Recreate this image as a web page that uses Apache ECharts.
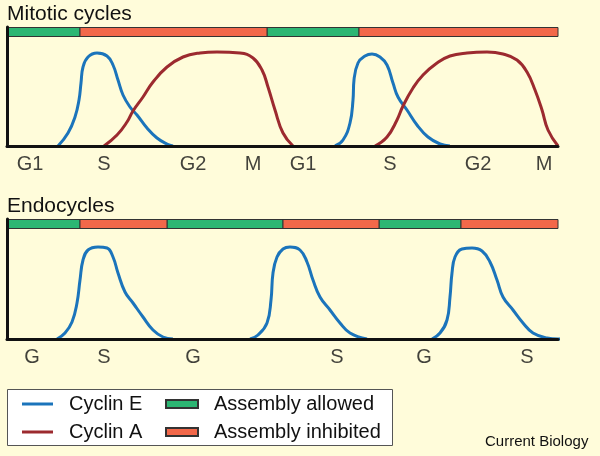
<!DOCTYPE html>
<html lang="en">
  <head>
    <meta charset="UTF-8" />
    <title>Mitotic cycles and endocycles</title>
    <script src="https://cdn.jsdelivr.net/npm/echarts@6/dist/echarts.min.js"></script>
    <style>
      html,
      body {
        margin: 0;
        padding: 0;
        background: #fffcda;
      }
      #app {
        width: 600px;
        height: 456px;
      }
    </style>
  </head>
  <body>
    <div id="app"></div>
    <script>
      // x = time along the cycles, y = relative cyclin level
      const mitoticE1 = [[51, 0], [61, 13], [68, 29], [72, 46], [74, 63], [76, 79], [81, 89], [90, 93], [100, 90], [106, 81], [111, 66], [116, 51], [123, 39], [130, 31], [140, 18], [150, 8], [160, 2], [166, 0]];
      const mitoticE2 = [[328, 0], [336, 6], [343, 23], [346, 46], [347, 66], [351, 83], [358, 90], [365, 92], [373, 89], [380, 81], [386, 63], [391, 49], [400, 36], [410, 21], [421, 9], [433, 2], [443, 0]];
      const mitoticA1 = [[97, 0], [110, 11], [120, 24], [126, 35], [136, 49], [146, 64], [160, 79], [176, 89], [193, 93], [210, 94], [233, 93], [246, 88], [255, 76], [261, 59], [268, 36], [276, 13], [286, 0]];
      const mitoticA2 = [[368, 0], [380, 9], [390, 26], [396, 40], [406, 58], [416, 71], [430, 83], [443, 90], [460, 93], [480, 94], [496, 92], [510, 86], [520, 74], [528, 56], [535, 36], [541, 16], [551, 0]];

      const endoE1 = [[50, 0], [58, 6], [65, 17], [70, 36], [73, 59], [76, 79], [81, 89], [91, 92], [100, 91], [106, 82], [111, 66], [118, 47], [126, 36], [136, 22], [146, 9], [156, 2], [166, 0]];
      const endoE2 = [[243, 0], [251, 4], [260, 16], [264, 39], [266, 66], [270, 82], [276, 90], [283, 92], [293, 89], [300, 77], [306, 59], [313, 42], [323, 29], [333, 16], [343, 6], [360, 0]];
      const endoE3 = [[425, 0], [433, 6], [440, 19], [443, 42], [445, 66], [448, 82], [455, 90], [465, 91], [475, 88], [483, 77], [490, 59], [496, 42], [506, 29], [516, 16], [526, 6], [540, 1], [551, 0], [568, 0]];

      // licensing windows [start, end]
      const mitoticAllowed = [[0, 73], [260, 352]];
      const mitoticInhibited = [[73, 260], [352, 551]];
      const endoAllowed = [[0, 73], [160, 276], [372, 454]];
      const endoInhibited = [[73, 160], [276, 372], [454, 551]];

      // phase labels under each time axis
      const mitoticPhases = ["G1", "S", "G2", "M", "G1", "S", "G2", "M"];
      const mitoticPhaseAt = [23, 97, 186, 246, 296, 383, 471, 537];
      const endoPhases = ["G", "S", "G", "S", "G", "S"];
      const endoPhaseAt = [25, 97, 186, 330, 417, 520];

      const FONT = "Liberation Sans";
      const INK = "#111";
      const BLUE = "#1b74bb";
      const DARKRED = "#9c2a2f";
      const GREEN = "#2cb673";
      const ORANGE = "#f2684a";

      const axisLine = { show: true, lineStyle: { color: "#111", width: 3 } };

      function xAxisFor(i) {
        return {
          type: "value", gridIndex: i, min: 0, max: 551, z: 5,
          axisLine: axisLine, axisTick: { show: false }, axisLabel: { show: false }, splitLine: { show: false },
        };
      }
      function yAxisFor(i, max) {
        return {
          type: "value", gridIndex: i, min: 0, max: max, z: 5,
          axisLine: axisLine, axisTick: { show: false }, axisLabel: { show: false }, splitLine: { show: false },
        };
      }

      function curve(name, color, data, i) {
        return {
          name: name, type: "line", xAxisIndex: i, yAxisIndex: i, data: data,
          smooth: 0.45, symbol: "none", clip: false, silent: true,
          itemStyle: { color: color }, lineStyle: { color: color, width: 3 },
        };
      }

      function barItem(params, api) {
        const a = api.coord([api.value(0), 0]);
        const b = api.coord([api.value(1), 0]);
        return {
          type: "rect",
          shape: { x: a[0], y: params.coordSys.y + 0.5, width: b[0] - a[0], height: 9 },
          style: { fill: api.visual("color"), stroke: "#333", lineWidth: 1 },
        };
      }
      function bars(name, color, data, i) {
        return {
          name: name, type: "custom", xAxisIndex: i, yAxisIndex: i, data: data,
          encode: { x: [0, 1] }, renderItem: barItem, silent: true, z: 3,
          itemStyle: { color: color, borderColor: "#333", borderWidth: 1 },
        };
      }

      function phaseLabels(names, at, i) {
        return {
          type: "scatter", xAxisIndex: i, yAxisIndex: i, clip: false, silent: true,
          symbolSize: 1, itemStyle: { color: "rgba(0,0,0,0)" },
          label: { show: true, position: "inside", formatter: "{b}", fontFamily: FONT, fontSize: 20, color: INK },
          data: names.map((n, k) => ({ name: n, value: [at[k], -18] })),
        };
      }

      const titleStyle = { fontFamily: FONT, fontSize: 21, fontWeight: "normal", color: INK };
      const legendText = { fontFamily: FONT, fontSize: 20, color: INK, lineHeight: 20, padding: [0, 0, 0, 11] };

      const option = {
        backgroundColor: "#fffcda",
        animation: false,
        title: [
          { text: "Mitotic cycles", left: 7, top: 4, padding: 0, textStyle: titleStyle },
          { text: "Endocycles", left: 7, top: 196, padding: 0, textStyle: titleStyle },
          {
            text: "Current Biology", left: 485, top: 434, padding: 0,
            textStyle: { fontFamily: FONT, fontSize: 15, fontWeight: "normal", color: INK },
          },
        ],
        graphic: [
          {
            type: "rect", left: 7, top: 389, z: -1,
            shape: { width: 385, height: 56 },
            style: { fill: "#fff", stroke: "#555", lineWidth: 1 },
          },
        ],
        legend: [
          {
            orient: "vertical", left: 22, top: 394, padding: 0,
            itemWidth: 31, itemHeight: 3, itemGap: 8, icon: "rect",
            textStyle: legendText,
            data: ["Cyclin E", "Cyclin A"],
          },
          {
            orient: "vertical", left: 165, top: 394, padding: 0,
            itemWidth: 32, itemHeight: 8, itemGap: 8, icon: "rect",
            textStyle: legendText,
            data: ["Assembly allowed", "Assembly inhibited"],
          },
        ],
        grid: [
          { left: 7, top: 27, width: 551, height: 119 },
          { left: 7, top: 219, width: 551, height: 120 },
        ],
        xAxis: [xAxisFor(0), xAxisFor(1)],
        yAxis: [yAxisFor(0, 119), yAxisFor(1, 120)],
        series: [
          bars("Assembly allowed", GREEN, mitoticAllowed, 0),
          bars("Assembly inhibited", ORANGE, mitoticInhibited, 0),
          bars("Assembly allowed", GREEN, endoAllowed, 1),
          bars("Assembly inhibited", ORANGE, endoInhibited, 1),
          curve("Cyclin E", BLUE, mitoticE1, 0),
          curve("Cyclin E", BLUE, mitoticE2, 0),
          curve("Cyclin A", DARKRED, mitoticA1, 0),
          curve("Cyclin A", DARKRED, mitoticA2, 0),
          curve("Cyclin E", BLUE, endoE1, 1),
          curve("Cyclin E", BLUE, endoE2, 1),
          curve("Cyclin E", BLUE, endoE3, 1),
          phaseLabels(mitoticPhases, mitoticPhaseAt, 0),
          phaseLabels(endoPhases, endoPhaseAt, 1),
        ],
      };

      const chart = echarts.init(document.getElementById("app"));
      chart.setOption(option);
    </script>
  </body>
</html>
